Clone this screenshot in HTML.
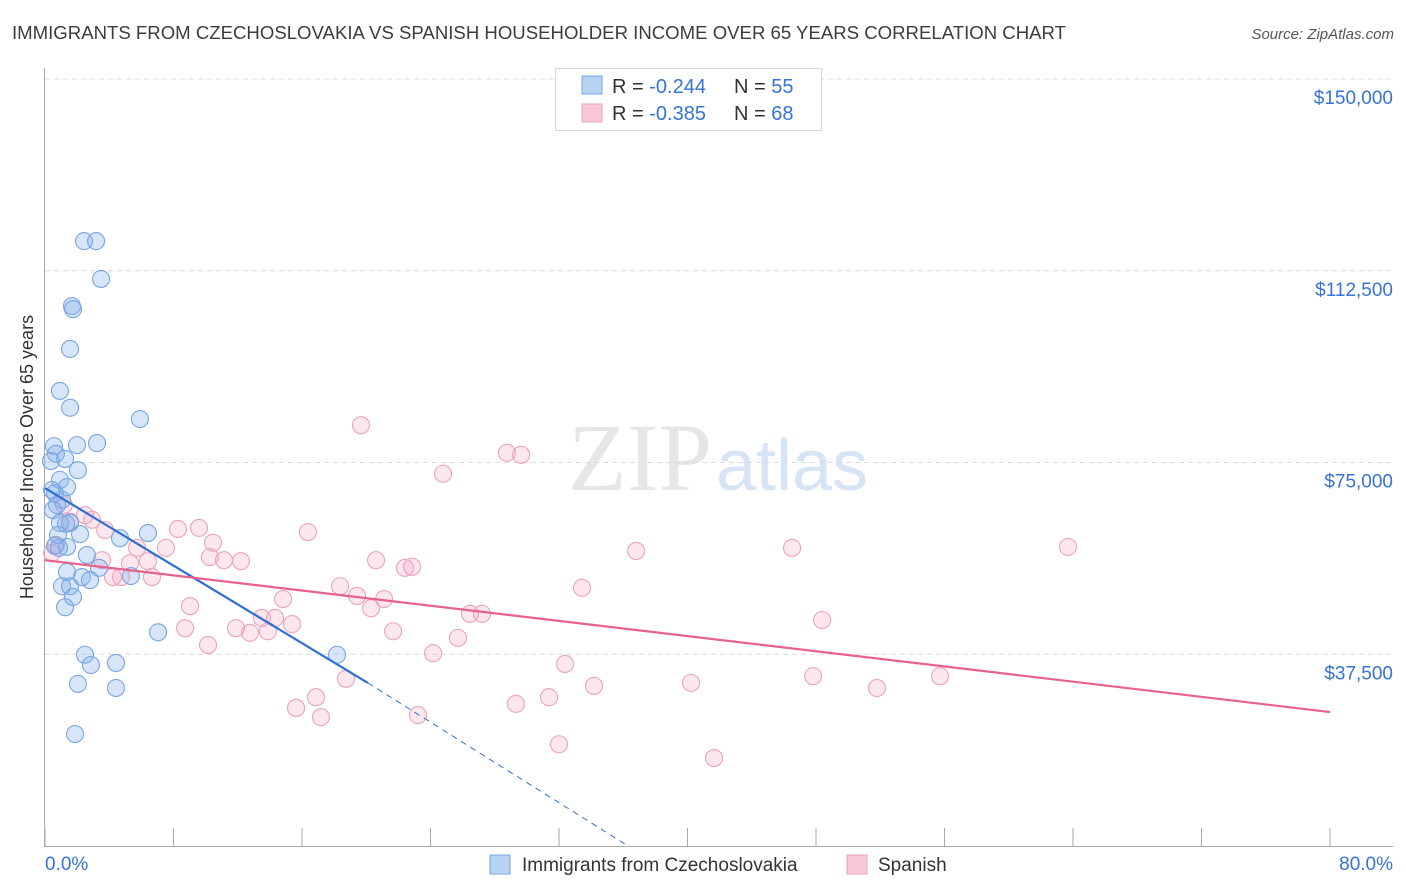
<!DOCTYPE html>
<html><head><meta charset="utf-8">
<style>
body{margin:0;background:#fff;font-family:"Liberation Sans",sans-serif;}
svg{display:block}
</style></head>
<body>
<svg width="1406" height="892" id="chart">
<text x="12" y="39" font-size="18" fill="#3c3c3c" textLength="1054" lengthAdjust="spacingAndGlyphs">IMMIGRANTS FROM CZECHOSLOVAKIA VS SPANISH HOUSEHOLDER INCOME OVER 65 YEARS CORRELATION CHART</text>
<text x="1394" y="39" font-size="15" fill="#555" font-style="italic" text-anchor="end">Source: ZipAtlas.com</text>
<text x="712" y="490" font-size="96" fill="#e6e6e6" font-family="Liberation Serif,serif" text-anchor="end">ZIP</text>
<text x="716" y="490" font-size="72" fill="#d6e4f5" text-anchor="start">atlas</text>
<text transform="translate(33,457) rotate(-90)" font-size="18" fill="#333" text-anchor="middle">Householder Income Over 65 years</text>
<g id="grid"></g>
<g id="axes"></g>
<g id="lines"></g>
<g id="pts"></g>
<g>
<rect x="555.5" y="68.5" width="266" height="62" fill="#fff" stroke="#d8d8d8"/>
<rect x="582" y="76" width="20" height="18" fill="#b9d3f5" stroke="#7aa6e3"/>
<rect x="582" y="104" width="20" height="18" fill="#f9c8d7" stroke="#e9a0b8"/>
<text x="612" y="93" font-size="20" fill="#333">R = <tspan fill="#3574d4">-0.244</tspan><tspan x="734">N = </tspan><tspan fill="#3574d4">55</tspan></text>
<text x="612" y="120" font-size="20" fill="#333">R = <tspan fill="#3574d4">-0.385</tspan><tspan x="734">N = </tspan><tspan fill="#3574d4">68</tspan></text>
</g>
<g>
<rect x="490" y="855" width="20" height="19" fill="#b9d3f5" stroke="#7aa6e3"/>
<text x="522" y="871" font-size="19" fill="#333">Immigrants from Czechoslovakia</text>
<rect x="847" y="855" width="20" height="19" fill="#f9c8d7" stroke="#e9a0b8"/>
<text x="878" y="871" font-size="19" fill="#333">Spanish</text>
</g>
</svg>
<script>
const blueX=[2.43,3.18,3.49,1.68,1.74,1.56,0.93,1.56,5.91,0.56,3.24,1.99,0.68,0.37,1.25,2.05,0.93,0.44,1.37,0.62,1.06,0.75,0.50,1.56,0.93,1.31,0.81,2.18,4.67,6.41,0.62,1.37,0.87,2.61,3.36,1.37,2.30,5.35,2.80,1.06,1.56,1.74,1.25,7.04,2.49,2.86,4.42,18.18,2.05,4.42,1.87];
const blueY=[118.3,118.3,110.9,105.6,105.0,97.2,89.0,85.7,83.5,78.2,78.8,78.4,76.7,75.3,75.7,73.5,71.6,69.6,70.2,69.0,67.7,66.7,65.7,63.2,63.2,63.0,60.8,61.0,60.2,61.2,58.7,58.5,58.3,56.9,54.4,53.6,52.6,52.8,52.0,50.8,50.8,48.7,46.7,41.8,37.4,35.4,35.8,37.4,31.7,30.9,21.9];
const pinkX=[0.44,0.68,1.18,1.56,2.49,2.93,3.74,3.55,4.23,4.73,5.29,5.73,6.41,6.66,7.53,8.28,9.03,9.59,10.27,10.46,11.14,8.72,10.15,11.89,12.20,12.76,13.51,13.88,14.32,14.82,15.38,15.63,16.37,16.87,17.18,18.37,18.74,19.43,19.67,20.30,20.61,21.11,21.67,22.41,22.85,23.22,24.16,24.78,25.71,26.46,27.21,28.76,29.64,29.32,31.38,32.00,32.38,33.43,34.18,36.80,40.22,41.65,46.51,47.82,48.38,51.80,55.72,63.69];
const pinkY=[57.3,58.9,66.7,63.4,64.7,63.8,61.8,55.9,52.6,52.6,55.3,58.3,55.7,52.6,58.3,62.0,46.9,62.2,56.5,59.3,55.9,42.6,39.3,42.6,55.7,41.7,44.6,42.0,44.6,48.3,43.4,27.0,61.4,29.1,25.2,50.8,32.7,48.9,82.3,46.5,55.9,48.3,42.0,54.4,54.6,25.6,37.7,72.8,40.7,45.4,45.4,76.9,76.5,27.8,29.1,19.9,35.6,50.5,31.3,57.7,31.9,17.2,58.3,33.2,44.2,30.9,33.2,58.5];
const yTicks=[37.5,75,112.5,150];
const yTickLabels=["$37,500","$75,000","$112,500","$150,000"];
const xTicks=[0,8,16,24,32,40,48,56,64,72,80];
const blueTrend=[[0,70.0],[20.1,31.9],[36.3,0]];
const pinkTrend=[[0,55.9],[80,26.2]];
const NS="http://www.w3.org/2000/svg";
const X=v=>45+v/80*1285, Y=v=>846-v/150*767;
function mk(t,a,p){const e=document.createElementNS(NS,t);for(const k in a)e.setAttribute(k,a[k]);p.appendChild(e);return e;}
const grid=document.getElementById('grid'),axes=document.getElementById('axes'),lines=document.getElementById('lines'),pts=document.getElementById('pts');
yTicks.forEach((t,i)=>{
 const g=mk('line',{x1:45,x2:1393,y1:Y(t),y2:Y(t),stroke:'#dcdcdc','stroke-dasharray':'5,4'},grid);
 
 
 const l=mk('text',{x:1393,y:Y(t)+25,'font-size':19,fill:'#3574d4','text-anchor':'end'},grid);
 l.textContent=yTickLabels[i];
 
 
});
const ya=mk('line',{x1:44.5,x2:44.5,y1:68,y2:846,stroke:'#aaa'},axes);


const xa=mk('line',{x1:44,x2:1393,y1:846.5,y2:846.5,stroke:'#aaa'},axes);


xTicks.forEach(t=>{
 const k=mk('line',{x1:X(t),x2:X(t),y1:828,y2:846,stroke:'#aaa'},axes);
 
 
});
[["0.0%",45,"start"],["80.0%",1393,"end"]].forEach(a=>{
 const l=mk('text',{x:a[1],y:870,'font-size':19,fill:'#3574d4','text-anchor':a[2]},axes);
 l.textContent=a[0];
 
 
});
function dot(x,y,f,s,name){
 const c=mk('circle',{cx:X(x),cy:Y(y),r:8.5,fill:f,stroke:s,'stroke-width':1.1},pts);
 
 
}
pinkX.forEach((x,i)=>dot(x,pinkY[i],'rgba(244,170,196,0.28)','#eba3bc','spanish-point'));
blueX.forEach((x,i)=>dot(x,blueY[i],'rgba(130,175,235,0.33)','#78a6e3','czechoslovakia-point'));
const bt=mk('line',{x1:X(blueTrend[0][0]),y1:Y(blueTrend[0][1]),x2:X(blueTrend[1][0]),y2:Y(blueTrend[1][1]),stroke:'#2f70d3','stroke-width':2.2},lines);


const bd=mk('line',{x1:X(blueTrend[1][0]),y1:Y(blueTrend[1][1]),x2:X(blueTrend[2][0]),y2:Y(blueTrend[2][1]),stroke:'#2f70d3','stroke-width':1,'stroke-dasharray':'6,5'},lines);


const pt=mk('line',{x1:X(pinkTrend[0][0]),y1:Y(pinkTrend[0][1]),x2:X(pinkTrend[1][0]),y2:Y(pinkTrend[1][1]),stroke:'#e8618d','stroke-width':2.2},lines);


document.getElementById('chart').appendChild(lines);
</script>
</body></html>
